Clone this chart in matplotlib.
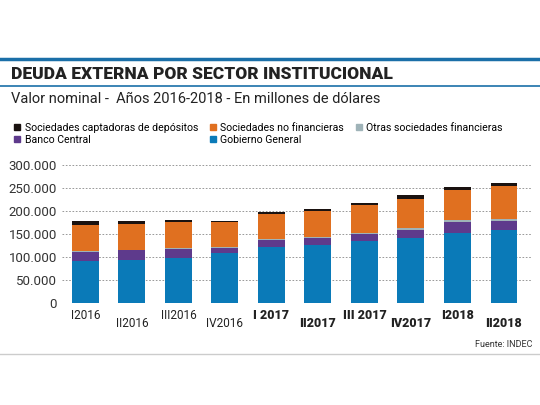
import matplotlib.pyplot as plt
import numpy as np
from matplotlib.lines import Line2D

plt.rcParams["font.family"] = ["Roboto", "DejaVu Sans"]

periods = ["I2016", "II2016", "III2016", "IV2016", "I 2017", "II2017",
           "III 2017", "IV2017", "I2018", "II2018"]
gobierno = [90.6, 94, 98, 109, 122, 126, 135.5, 142, 152, 159]
banco = [19.4, 20, 19, 11, 14, 14, 13.5, 17, 24, 20]
otras = [3, 2, 3, 2, 2, 3, 3, 4, 4, 4]
no_fin = [57, 56, 55, 54, 55, 56, 60, 63, 66, 71]
captadoras = [7, 5, 5, 3, 4, 6, 5, 9, 6, 6]

colors = {"gob": "#0a7ab8", "banco": "#5e3a8c", "otras": "#9fb3b8",
          "nofin": "#e07020", "capt": "#1a1210"}

fig = plt.figure(figsize=(5.4, 4.05), dpi=100)
fig.patch.set_facecolor("white")
ax = fig.add_axes([0.115, 0.252, 0.87, 0.341])

x = np.arange(len(periods))
w = 0.58
vals = [np.array(v) * 1000 for v in (gobierno, banco, otras, no_fin, captadoras)]
cols = [colors["gob"], colors["banco"], colors["otras"], colors["nofin"], colors["capt"]]
bottom = np.zeros(len(periods))
for v, c in zip(vals, cols):
    ax.bar(x, v, w, bottom=bottom, color=c, zorder=3)
    bottom += v

ax.set_ylim(0, 300000)
ax.set_xlim(-0.5, len(periods) - 0.4)
ax.set_yticks(np.arange(0, 300001, 50000))
ax.set_yticklabels(["0"] + [f"{int(t/1000)}.000" for t in range(50000, 300001, 50000)],
                   fontsize=9.5, color="#333333")
ax.yaxis.grid(True, linestyle=(0, (2, 2)), color="#888888", linewidth=0.6, zorder=0)
ax.tick_params(length=0)
for s in ax.spines.values():
    s.set_visible(False)
ax.set_xticks(x)
ax.set_xticklabels([])
for i, lab in enumerate(periods):
    bold = i >= 4
    ax.annotate(lab, (i, 0), xytext=(0, -9 if i % 2 == 0 else -15), textcoords="offset points",
                ha="center", va="center", fontsize=9 if bold else 8.5,
                fontweight="black" if bold else "normal", color="#222222")

# header
fig.add_artist(Line2D([0, 1], [0.855, 0.855], color="#1a6fa8", lw=2.5, transform=fig.transFigure))
fig.add_artist(Line2D([0, 1], [0.787, 0.787], color="#1a6fa8", lw=1.2, transform=fig.transFigure))
fig.text(0.02, 0.805, "DEUDA EXTERNA POR SECTOR INSTITUCIONAL", fontsize=12.5,
         fontweight="black", color="#222222")
fig.text(0.02, 0.745, "Valor nominal -  Años 2016-2018 - En millones de dólares",
         fontsize=10.5, color="#222222")

handles = [Line2D([], [], marker="s", ls="", color=c, markersize=4) for c in
           [colors["capt"], colors["banco"], colors["nofin"], colors["gob"], colors["otras"]]]
labels = ["Sociedades captadoras de depósitos", "Banco Central", "Sociedades no financieras",
          "Gobierno General", "Otras sociedades financieras"]
fig.legend(handles, labels, ncol=3, loc="upper left", bbox_to_anchor=(0.005, 0.72),
           frameon=False, fontsize=7.6, handletextpad=0.2, columnspacing=0.9,
           labelspacing=0.2, handlelength=1)

fig.add_artist(Line2D([0, 1], [0.125, 0.125], color="#cccccc", lw=1, transform=fig.transFigure))
fig.text(0.985, 0.142, "Fuente: INDEC", fontsize=6.5, ha="right", color="#333333")

fig.savefig("out.png", dpi=100)
